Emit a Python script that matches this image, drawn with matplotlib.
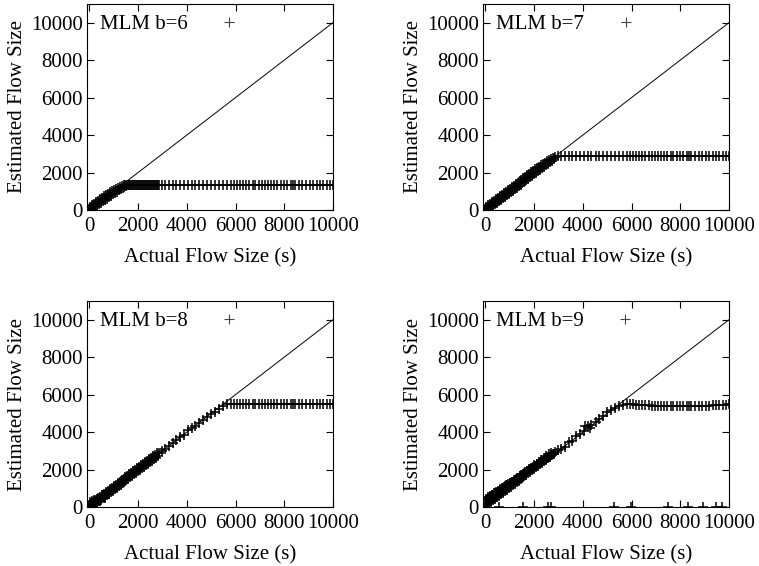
import numpy as np
import matplotlib.pyplot as plt

plt.rcParams['font.family'] = ['Liberation Serif', 'DejaVu Serif']
plt.rcParams['font.size'] = 15

# actual flow sizes (shared by the four panels)
dense_x = [0, 40, 80, 120, 160, 200, 240, 280, 320, 360, 400, 440, 480, 520,
           560, 600, 640, 680, 720, 760, 800, 840, 880, 920, 960, 1000, 1040, 1080,
           1120, 1160, 1200, 1240, 1280, 1320, 1360, 1400, 1440, 1480, 1520, 1560,
           1600, 1640, 1680, 1720, 1760, 1800, 1840, 1880, 1920, 1960, 2000, 2040,
           2080, 2120, 2160, 2200, 2240, 2280, 2320, 2360, 2400, 2440, 2480, 2520,
           2560, 2600, 2640, 2680, 2720, 2760, 2800]
tail_x = [2860, 2990, 3120, 3260, 3420, 3560, 3720, 3870, 4040, 4200, 4350, 4520,
          4680, 4840, 5010, 5170, 5330, 5500, 5660, 5830,
          5940, 6050, 6180, 6290, 6420, 6550, 6700, 6820, 6950, 7080, 7200, 7330,
          7450, 7600, 7720, 7850, 7990, 8120, 8260, 8380, 8450, 8600, 8750, 8900,
          9050, 9200, 9330, 9480, 9600, 9750, 9880, 10000]
actual = dense_x + tail_x

# estimated sizes, b=6
est_b6 = [0, 180, 0, 260, 60, 340, 140, 420, 220, 500, 300, 580, 380, 650,
          460, 730, 540, 800, 610, 870, 690, 940, 760, 1000, 840, 1060, 910, 1120,
          980, 1180, 1050, 1230, 1120, 1280, 1190, 1320, 1250, 1345, 1300, 1360,
          1330, 1350, 1350, 1350, 1350, 1350, 1350, 1350, 1350, 1350, 1350, 1350,
          1350, 1350, 1350, 1350, 1350, 1350, 1350, 1350, 1350, 1350, 1350, 1350,
          1350, 1350, 1350, 1350, 1350, 1350, 1350] + \
         [1350, 1350, 1350, 1350, 1350, 1350, 1350, 1350, 1350, 1350, 1350, 1350,
          1350, 1350, 1350, 1350, 1350, 1350, 1350, 1350,
          1350, 1350, 1350, 1350, 1350, 1350, 1350, 1350, 1350, 1350, 1350, 1350,
          1350, 1350, 1350, 1350, 1350, 1350, 1350, 1350, 1350, 1350, 1350, 1350,
          1350, 1350, 1350, 1350, 1350, 1350, 1350, 1350]

# b=7
est_b7 = [0, 180, 0, 260, 60, 340, 140, 420, 220, 500, 300, 580, 380, 660,
          460, 740, 540, 820, 620, 900, 700, 980, 780, 1060, 860, 1140, 940, 1220,
          1020, 1300, 1100, 1380, 1180, 1460, 1260, 1540, 1340, 1620, 1420, 1700,
          1500, 1780, 1580, 1860, 1660, 1940, 1740, 2020, 1820, 2100, 1900, 2170,
          1980, 2240, 2060, 2310, 2140, 2380, 2220, 2450, 2300, 2520, 2380, 2590,
          2460, 2660, 2540, 2730, 2620, 2800, 2700] + \
         [2820, 2875, 2880, 2880, 2880, 2880, 2880, 2880, 2880, 2880, 2880, 2880,
          2880, 2880, 2880, 2880, 2880, 2880, 2880, 2880,
          2880, 2880, 2880, 2880, 2880, 2880, 2880, 2880, 2880, 2880, 2880, 2880,
          2880, 2880, 2880, 2880, 2880, 2880, 2880, 2880, 2880, 2880, 2880, 2880,
          2880, 2880, 2880, 2880, 2880, 2880, 2880, 2880]

# b=8
est_b8 = [40, 160, 0, 240, 80, 320, 160, 400, 240, 480, 320, 560, 400, 640,
          480, 720, 560, 800, 640, 880, 720, 960, 800, 1040, 880, 1120, 960, 1200,
          1040, 1280, 1120, 1360, 1200, 1440, 1280, 1520, 1360, 1600, 1440, 1680,
          1520, 1760, 1600, 1840, 1680, 1920, 1760, 2000, 1840, 2080, 1920, 2160,
          2000, 2240, 2080, 2320, 2160, 2400, 2240, 2480, 2320, 2560, 2400, 2640,
          2480, 2720, 2560, 2800, 2640, 2880, 2720] + \
         [2880, 3010, 3100, 3280, 3440, 3570, 3760, 3860, 4100, 4220, 4330, 4500,
          4650, 4800, 4950, 5100, 5250, 5400, 5490, 5500,
          5500, 5500, 5500, 5500, 5500, 5500, 5500, 5500, 5500, 5500, 5500, 5500,
          5500, 5500, 5500, 5500, 5500, 5500, 5500, 5500, 5500, 5500, 5500, 5500,
          5500, 5500, 5500, 5500, 5500, 5500, 5500, 5500]
extra_b8_x = [40, 90, 140, 200, 260, 330, 420, 510, 620]
extra_b8_y = [250, 300, 120, 380, 180, 450, 300, 640, 500]

# b=9
est_b9 = [0, 420, 120, 500, 200, 580, 280, 660, 360, 730, 440, 800, 520, 870,
          600, 940, 680, 1010, 760, 1080, 840, 1150, 920, 1220, 1000, 1290, 1080, 1360,
          1160, 1430, 1240, 1500, 1320, 1570, 1400, 1640, 1480, 1710, 1560, 1780,
          1640, 1850, 1720, 1920, 1800, 1990, 1880, 2060, 1960, 2130, 2040, 2200,
          2120, 2270, 2200, 2340, 2280, 2410, 2360, 2480, 2440, 2550, 2520, 2620,
          2600, 2690, 2680, 2760, 2760, 2830, 2840] + \
         [2950, 3050, 3120, 3200, 3450, 3550, 3800, 3900, 4050, 4300, 4400, 4560,
          4700, 4880, 5050, 5180, 5300, 5420, 5460, 5480,
          5490, 5480, 5470, 5460, 5450, 5440, 5430, 5420, 5420, 5410, 5400, 5400,
          5400, 5390, 5390, 5380, 5400, 5390, 5390, 5380, 5390, 5380, 5400, 5380,
          5370, 5420, 5440, 5450, 5460, 5450, 5470, 5500]
extra_b9_x = [50, 100, 150, 200, 250, 300, 350, 400, 450, 500, 550, 600, 650, 700,
              800, 900, 1000, 1100, 1200, 1300, 1400, 1500, 1600, 1700, 1800, 1900,
              2000, 2100, 2200, 2300, 2400, 2500, 2600, 2700, 4100, 4300]
extra_b9_y = [400, 550, 300, 500, 650, 450, 600, 750, 550, 800, 700, 900, 850, 1000,
              1100, 1150, 1300, 1350, 1450, 1550, 1650, 1700, 1800, 1900, 2050, 2100,
              2250, 2300, 2400, 2500, 2600, 2700, 2850, 2900, 4350, 4200]
zero_b9_x = [570, 1540, 2560, 2690, 5270, 5960, 7510, 8330, 8940, 9470, 9700]
zero_b9_y = [0, 0, 0, 0, 0, 0, 0, 0, 0, 0, 0]

ideal = [0, 10000]
ticks = [0, 2000, 4000, 6000, 8000, 10000]

panels = [
    ('MLM b=6', est_b6, [], [], [0.1146, 0.629, 0.324, 0.364]),
    ('MLM b=7', est_b7, [], [], [0.6364, 0.629, 0.324, 0.364]),
    ('MLM b=8', est_b8, extra_b8_x, extra_b8_y, [0.1146, 0.1042, 0.324, 0.364]),
    ('MLM b=9', est_b9, extra_b9_x + zero_b9_x, extra_b9_y + zero_b9_y,
     [0.6364, 0.1042, 0.324, 0.364]),
]

fig = plt.figure(figsize=(7.59, 5.66), dpi=100)

for label, est, ex, ey, pos in panels:
    ax = fig.add_axes(pos)
    ax.plot(actual + ex, est + ey, linestyle='none', marker='+', color='black',
            markersize=6.5, markeredgewidth=1.1, label=label)
    ax.plot(ideal, ideal, color='black', linewidth=0.7)
    ax.set_xlim(-100, 10000)
    ax.set_ylim(0, 11000)
    ax.set_xticks(ticks)
    ax.set_yticks(ticks)
    ax.tick_params(direction='in', top=True, right=True, length=5, width=0.8,
                   labelsize=15)
    ax.tick_params(axis='x', pad=5)
    ax.tick_params(axis='y', pad=3)
    for s in ax.spines.values():
        s.set_linewidth(0.8)
    ax.set_xlabel('Actual Flow Size (s)', fontsize=15, labelpad=9)
    ax.set_ylabel('Estimated Flow Size', fontsize=15, labelpad=3)
    leg = ax.legend(loc='upper left', bbox_to_anchor=(0.053, 0.95), markerfirst=False,
                    frameon=False, borderpad=0, borderaxespad=0, handlelength=3.0,
                    handletextpad=0.5, fontsize=15)
    for h in leg.legend_handles:
        h.set_markeredgewidth(0.8)
        h.set_color('#444444')

fig.savefig('out.png', dpi=100)
